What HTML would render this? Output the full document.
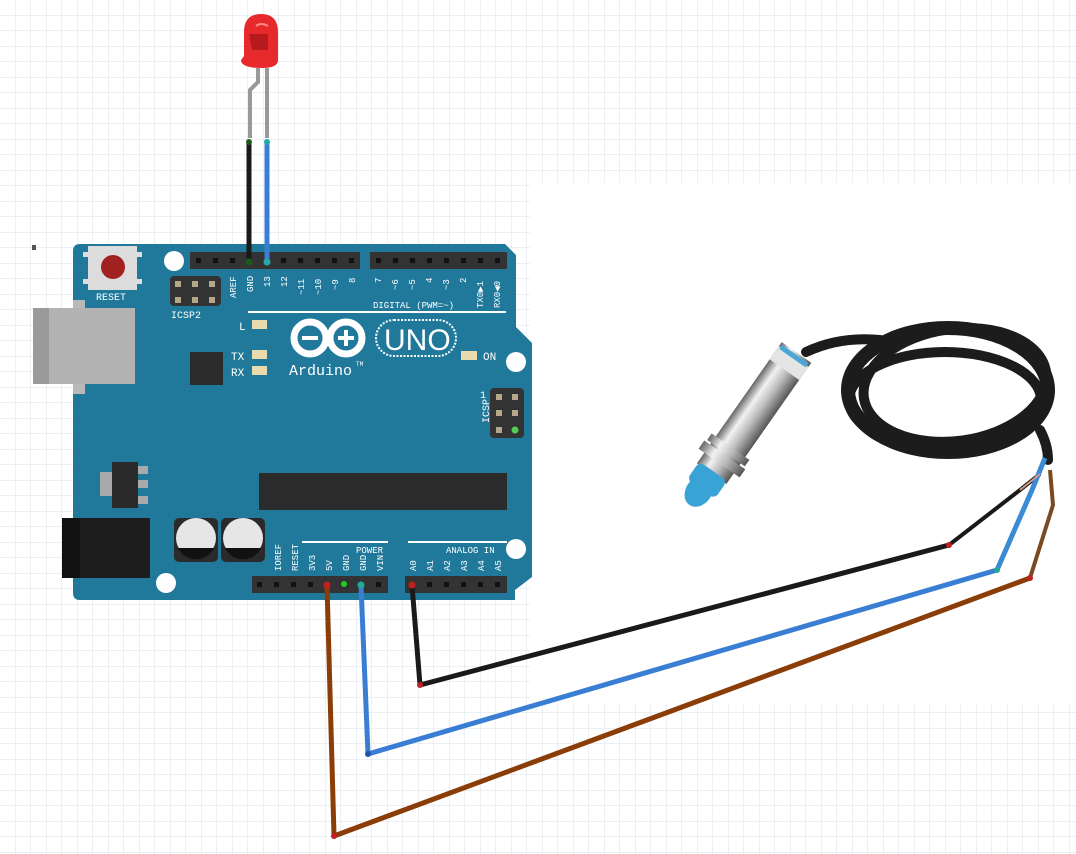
<!DOCTYPE html>
<html><head><meta charset="utf-8"><style>
html,body{margin:0;padding:0;background:#fff;}
svg{display:block;font-family:"Liberation Mono",monospace;}
</style></head><body>
<svg width="1076" height="854" viewBox="0 0 1076 854" xmlns="http://www.w3.org/2000/svg">
<defs>
<pattern id="g" width="15.5" height="15.5" patternUnits="userSpaceOnUse">
<path d="M15.5 0V15.5M0 15.5H15.5" stroke="#d6e2e9" stroke-width="1" fill="none"/>
</pattern>
<linearGradient id="metal" x1="0" y1="0" x2="0" y2="1">
<stop offset="0" stop-color="#666"/><stop offset="0.3" stop-color="#f2f2f2"/><stop offset="0.6" stop-color="#bbb"/><stop offset="1" stop-color="#555"/>
</linearGradient>
</defs>
<rect width="1076" height="854" fill="#fff"/>
<rect width="1076" height="854" fill="url(#g)"/>
<rect x="530" y="183" width="546" height="521" fill="#fff"/>
<rect x="32" y="245" width="4" height="5" fill="#555"/>

<path d="M80 244 H505 L516 255 V327 L532 343 V577 L515 590 V600 H80 Q73 600 73 593 V251 Q73 244 80 244Z" fill="#20799b"/>
<rect x="73" y="300" width="12" height="94" fill="#b9b9b9"/>
<rect x="33" y="308" width="102" height="76" fill="#b3b3b3"/>
<rect x="33" y="308" width="16" height="76" fill="#9a9a9a"/>
<rect x="88" y="246" width="49" height="44" fill="#dcdcdc"/>
<rect x="83" y="252" width="6" height="5" fill="#ddd"/><rect x="83" y="279" width="6" height="5" fill="#ddd"/>
<rect x="136" y="252" width="6" height="5" fill="#ddd"/><rect x="136" y="279" width="6" height="5" fill="#ddd"/>
<circle cx="113" cy="267" r="12" fill="#a0211f"/>
<text x="96" y="300" font-size="10" fill="#fff">RESET</text>
<circle cx="174" cy="261" r="10" fill="#fff"/>
<circle cx="516" cy="362" r="10" fill="#fff"/>
<circle cx="516" cy="549" r="10" fill="#fff"/>
<circle cx="166" cy="583" r="10" fill="#fff"/>
<rect x="170" y="276" width="51" height="30" rx="4" fill="#333"/>
<g fill="#b5a88a"><rect x="175" y="281" width="6" height="6"/><rect x="192" y="281" width="6" height="6"/><rect x="209" y="281" width="6" height="6"/><rect x="175" y="297" width="6" height="6"/><rect x="192" y="297" width="6" height="6"/><rect x="209" y="297" width="6" height="6"/></g>
<text x="171" y="318" font-size="10" fill="#fff">ICSP2</text>
<rect x="190" y="252" width="170" height="17" fill="#333"/>
<rect x="370" y="252" width="137" height="17" fill="#333"/>
<g fill="#111">
<rect x="196" y="258" width="5" height="5"/><rect x="213" y="258" width="5" height="5"/><rect x="230" y="258" width="5" height="5"/>
<rect x="281" y="258" width="5" height="5"/><rect x="298" y="258" width="5" height="5"/><rect x="315" y="258" width="5" height="5"/><rect x="332" y="258" width="5" height="5"/><rect x="349" y="258" width="5" height="5"/>
<rect x="376" y="258" width="5" height="5"/><rect x="393" y="258" width="5" height="5"/><rect x="410" y="258" width="5" height="5"/><rect x="427" y="258" width="5" height="5"/><rect x="444" y="258" width="5" height="5"/><rect x="461" y="258" width="5" height="5"/><rect x="478" y="258" width="5" height="5"/><rect x="495" y="258" width="5" height="5"/>
</g>
<g font-size="9" fill="#fff">
<text transform="translate(236,298) rotate(-90)">AREF</text>
<text transform="translate(253,292) rotate(-90)">GND</text>
<text transform="translate(270,287) rotate(-90)">13</text>
<text transform="translate(287,287) rotate(-90)">12</text>
<text transform="translate(304,295) rotate(-90)">~11</text>
<text transform="translate(321,295) rotate(-90)">~10</text>
<text transform="translate(338,290) rotate(-90)">~9</text>
<text transform="translate(355,283) rotate(-90)">8</text>
<text transform="translate(381,283) rotate(-90)">7</text>
<text transform="translate(398,290) rotate(-90)">~6</text>
<text transform="translate(415,290) rotate(-90)">~5</text>
<text transform="translate(432,283) rotate(-90)">4</text>
<text transform="translate(449,290) rotate(-90)">~3</text>
<text transform="translate(466,283) rotate(-90)">2</text>
<text transform="translate(483,308) rotate(-90)">TX0▶1</text>
<text transform="translate(500,308) rotate(-90)">RX0◀0</text>
<text x="373" y="308">DIGITAL (PWM=~)</text>
</g>
<rect x="248" y="311" width="258" height="2" fill="#fff"/>
<g font-size="11" fill="#fff"><text x="239" y="330">L</text><text x="231" y="360">TX</text><text x="231" y="376">RX</text><text x="483" y="360">ON</text></g>
<g fill="#e8dcae"><rect x="252" y="320" width="15" height="9"/><rect x="252" y="350" width="15" height="9"/><rect x="252" y="366" width="15" height="9"/><rect x="461" y="351" width="16" height="9"/></g>
<rect x="190" y="352" width="33" height="33" fill="#2b2b2b"/>
<g fill="none" stroke="#fff" stroke-width="7">
<circle cx="310" cy="338" r="16"/><circle cx="346" cy="338" r="16"/>
</g>
<g fill="#fff"><rect x="302" y="336" width="16" height="4"/><rect x="338" y="336" width="16" height="4"/><rect x="344" y="330" width="4" height="16"/></g>
<rect x="376" y="320" width="80" height="36" rx="18" fill="none" stroke="#fff" stroke-width="2" stroke-dasharray="2 1.5"/>
<text x="384" y="350" font-family="Liberation Sans,sans-serif" font-size="30" fill="#fff">UNO</text>
<text x="289" y="375" font-size="15" fill="#fff">Arduino</text>
<text x="356" y="366" font-size="6" fill="#fff">TM</text>
<rect x="490" y="388" width="34" height="50" rx="4" fill="#333"/>
<g fill="#b5a88a"><rect x="496" y="394" width="6" height="6"/><rect x="512" y="394" width="6" height="6"/><rect x="496" y="410" width="6" height="6"/><rect x="512" y="410" width="6" height="6"/><rect x="496" y="427" width="6" height="6"/></g>
<circle cx="515" cy="430" r="3.5" fill="#5c5"/>
<text transform="translate(489,423) rotate(-90)" font-size="10" fill="#fff">ICSP</text>
<text x="480" y="398" font-size="10" fill="#fff">1</text>
<rect x="259" y="473" width="248" height="37" fill="#2b2b2b"/>
<rect x="100" y="472" width="20" height="24" fill="#a9a9a9"/>
<rect x="112" y="462" width="26" height="46" fill="#2a2a2a"/>
<rect x="138" y="466" width="10" height="8" fill="#aaa"/><rect x="138" y="480" width="10" height="8" fill="#aaa"/><rect x="138" y="496" width="10" height="8" fill="#aaa"/>
<rect x="62" y="518" width="88" height="60" fill="#1d1d1d"/>
<rect x="62" y="518" width="18" height="60" fill="#111"/>
<rect x="174" y="518" width="44" height="44" rx="5" fill="#2a2a2a"/>
<rect x="221" y="518" width="44" height="44" rx="5" fill="#2a2a2a"/>
<circle cx="196" cy="538" r="20" fill="#e6e6e6"/><circle cx="243" cy="538" r="20" fill="#e6e6e6"/>
<path d="M178 548 A20 20 0 0 0 214 548Z" fill="#111"/><path d="M225 548 A20 20 0 0 0 261 548Z" fill="#111"/>
<rect x="302" y="541" width="86" height="2" fill="#fff"/>
<rect x="408" y="541" width="99" height="2" fill="#fff"/>
<g font-size="9" fill="#fff">
<text x="356" y="553">POWER</text><text x="446" y="553">ANALOG IN</text>
<text transform="translate(281,571) rotate(-90)">IOREF</text>
<text transform="translate(298,571) rotate(-90)">RESET</text>
<text transform="translate(315,571) rotate(-90)">3V3</text>
<text transform="translate(332,571) rotate(-90)">5V</text>
<text transform="translate(349,571) rotate(-90)">GND</text>
<text transform="translate(366,571) rotate(-90)">GND</text>
<text transform="translate(383,571) rotate(-90)">VIN</text>
<text transform="translate(416,571) rotate(-90)">A0</text>
<text transform="translate(433,571) rotate(-90)">A1</text>
<text transform="translate(450,571) rotate(-90)">A2</text>
<text transform="translate(467,571) rotate(-90)">A3</text>
<text transform="translate(484,571) rotate(-90)">A4</text>
<text transform="translate(501,571) rotate(-90)">A5</text>
</g>
<rect x="252" y="576" width="136" height="17" fill="#333"/>
<rect x="405" y="576" width="102" height="17" fill="#333"/>
<g fill="#111">
<rect x="257" y="582" width="5" height="5"/><rect x="274" y="582" width="5" height="5"/><rect x="291" y="582" width="5" height="5"/><rect x="308" y="582" width="5" height="5"/><rect x="376" y="582" width="5" height="5"/>
<rect x="427" y="582" width="5" height="5"/><rect x="444" y="582" width="5" height="5"/><rect x="461" y="582" width="5" height="5"/><rect x="478" y="582" width="5" height="5"/><rect x="495" y="582" width="5" height="5"/>
</g>
<circle cx="344" cy="584" r="3" fill="#2c2"/>

<path d="M250 138 V90 L258 82 V68" stroke="#999" stroke-width="4" fill="none"/>
<path d="M267 138 V68" stroke="#999" stroke-width="4" fill="none"/>
<path d="M244 56 V32 Q244 14 261 14 Q278 14 278 32 V60 Q278 68 262 68 Q241 68 241 60Z" fill="#e8292b"/>
<path d="M249 34 L268 34 L268 50 L252 50Z" fill="#b51b1d"/>
<path d="M256 26 Q261 22 268 26" stroke="#f88" stroke-width="2" fill="none"/>
<path d="M249 141 V262" stroke="#1a1a1a" stroke-width="5"/>
<path d="M267 141 V262" stroke="#3a7ed4" stroke-width="5"/>
<circle cx="249" cy="142" r="3" fill="#1a5a1a"/><circle cx="267" cy="142" r="3" fill="#2aa"/>
<circle cx="249" cy="262" r="3.5" fill="#1a5a1a"/><circle cx="267" cy="262" r="3.5" fill="#2aa"/>

<g fill="none" stroke="#1c1c1c" stroke-linecap="round">
<path d="M806 352 Q840 336 880 340" stroke-width="10"/>
<ellipse cx="948" cy="390" rx="100" ry="62" stroke-width="14"/>
<ellipse cx="955" cy="385" rx="92" ry="56" stroke-width="10" transform="rotate(-8 955 385)"/>
<ellipse cx="945" cy="400" rx="96" ry="48" stroke-width="10"/>
<path d="M1040 430 Q1048 445 1048 460" stroke-width="10"/>
</g>
<g transform="translate(703,486) rotate(-55)">
<rect x="15" y="-18" width="148" height="36" fill="url(#metal)"/>
<rect x="28" y="-25" width="10" height="50" fill="url(#metal)"/>
<rect x="40" y="-23" width="8" height="46" fill="url(#metal)"/>
<rect x="142" y="-18" width="16" height="36" fill="#e4e4e4"/>
<rect x="156" y="-16" width="5" height="32" fill="#4aa6d4"/>
<rect x="-4" y="-17" width="22" height="34" rx="6" fill="#3aa3d6"/>
</g>
<ellipse cx="699" cy="491" rx="17" ry="13" fill="#3aa3d6" transform="rotate(-55 699 491)"/>
<path d="M949 545 L1020 490 L1040 474" stroke="#1a1a1a" stroke-width="4" fill="none"/>
<path d="M997 570 L1032 490 L1045 458" stroke="#3a8ad4" stroke-width="5" fill="none"/>
<path d="M1030 578 L1053 505 L1050 470" stroke="#7a4a22" stroke-width="4" fill="none"/>
<path d="M1020 490 L1040 474" stroke="#c98" stroke-width="2"/>

<path d="M412 585 L420 685 L949 545" stroke="#1a1a1a" stroke-width="5" fill="none" stroke-linejoin="round"/>
<path d="M361 585 L368 754 L997 570" stroke="#3a7ed4" stroke-width="5" fill="none" stroke-linejoin="round"/>
<path d="M327 585 L334 836 L1030 578" stroke="#8b3d07" stroke-width="5" fill="none" stroke-linejoin="round"/>
<g fill="#c02020"><circle cx="412" cy="585" r="3.5"/><circle cx="327" cy="585" r="3.5"/><circle cx="420" cy="685" r="3"/><circle cx="334" cy="836" r="3"/><circle cx="949" cy="545" r="3"/><circle cx="1030" cy="578" r="3"/></g>
<g fill="#2a9"><circle cx="361" cy="585" r="3.5"/><circle cx="997" cy="570" r="3"/></g>
<circle cx="368" cy="754" r="3" fill="#25a"/>
</svg>
</body></html>
